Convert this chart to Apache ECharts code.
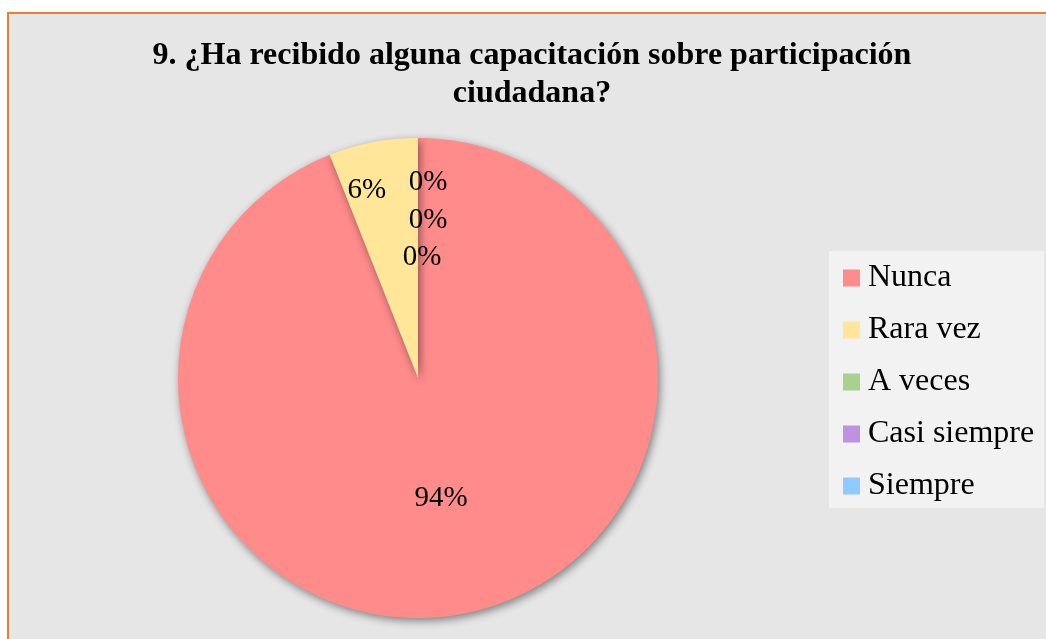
<!DOCTYPE html>
<html>
<head>
<meta charset="utf-8">
<script src="https://cdn.jsdelivr.net/npm/echarts@6/dist/echarts.min.js"></script>
<style>
    html, body { margin: 0; padding: 0; background: #ffffff; overflow: hidden; }
    #frame {
        position: absolute; left: 7px; top: 12px; width: 1100px; height: 700px;
        background: #E6E6E6; border-left: 2px solid #ED7D31; border-top: 2px solid #ED7D31;
    }
    #chart { position: absolute; left: 9px; top: 14px; width: 1046px; height: 640px; }
</style>
</head>
<body>
<div id="frame"></div>
<div id="chart"></div>
<script>
    var categorias = ['Nunca', 'Rara vez', 'A veces', 'Casi siempre', 'Siempre'];
    var porcentajes = [94, 6, 0, 0, 0];
    var colores = ['#FF8B8B', '#FFE699', '#A9D18E', '#BF92E0', '#8FCBFF'];
    // corrimiento de cada etiqueta respecto a su posicion "inside"
    var desplazamientos = [[0, 0], [-28, -67], [10, -73], [10, -35], [4, 2]];

    var datos = [];
    categorias.forEach(function (nombre, i) {
        datos.push({
            name: nombre,
            value: porcentajes[i],
            itemStyle: { color: colores[i] },
            label: { offset: desplazamientos[i] }
        });
    });

    var dom = document.getElementById('chart');
    var myChart = echarts.init(dom);

    var option = {
        backgroundColor: 'transparent',
        title: {
            text: '9. ¿Ha recibido alguna capacitación sobre participación\nciudadana?',
            left: 'center',
            top: 18,
            textStyle: {
                fontFamily: 'Liberation Serif',
                fontWeight: 'bold',
                fontSize: 32,
                lineHeight: 38,
                color: '#000000'
            }
        },
        legend: {
            orient: 'vertical',
            left: 820,
            top: 237,
            padding: [11, 10, 6, 14],
            backgroundColor: '#F2F2F2',
            icon: 'rect',
            itemWidth: 17,
            itemHeight: 17,
            itemGap: 20,
            textStyle: {
                fontFamily: 'Liberation Serif',
                fontSize: 32,
                lineHeight: 26,
                color: '#000000',
                padding: [0, 0, 0, 3]
            },
            data: categorias
        },
        series: [
            {
                name: 'Capacitación',
                type: 'pie',
                center: [409, 364],
                radius: 240,
                startAngle: 90,
                clockwise: true,
                avoidLabelOverlap: false,
                silent: true,
                label: {
                    show: true,
                    position: 'inside',
                    formatter: '{d}%',
                    fontFamily: 'Liberation Serif',
                    fontSize: 29,
                    color: '#000000'
                },
                labelLine: { show: false },
                itemStyle: {
                    shadowBlur: 8,
                    shadowOffsetX: 2,
                    shadowOffsetY: 3,
                    shadowColor: 'rgba(0, 0, 0, 0.45)'
                },
                data: datos
            }
        ]
    };

    if (option && typeof option === 'object') {
        myChart.setOption(option, true);
    }
</script>
</body>
</html>
